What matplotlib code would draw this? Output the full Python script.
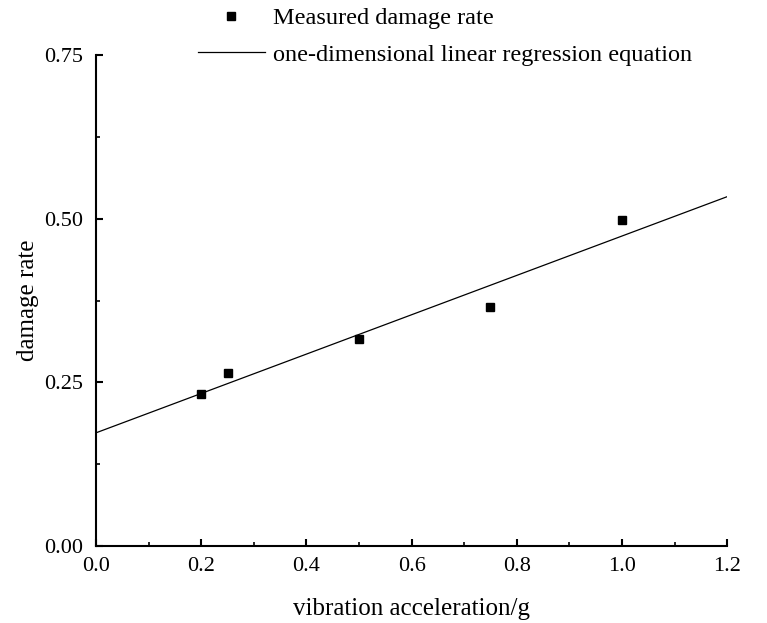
import numpy as np
import matplotlib.pyplot as plt
from matplotlib.ticker import MultipleLocator

# measured damage rate vs vibration acceleration
accel_g = [0.2, 0.25, 0.5, 0.75, 1.0]
damage_rate = [0.232, 0.265, 0.316, 0.365, 0.498]

x_ticks = [0.0, 0.2, 0.4, 0.6, 0.8, 1.0, 1.2]
y_ticks = [0.00, 0.25, 0.50, 0.75]

plt.rcParams['font.family'] = ['Liberation Serif', 'DejaVu Serif']

fig = plt.figure(figsize=(7.67, 6.23), dpi=100)
ax = fig.add_axes([0.1252, 0.1236, 0.8228, 0.7881])

# one-dimensional linear fit through the measured points
slope, intercept = np.polyfit(accel_g, damage_rate, 1)
x_fit = np.array([x_ticks[0], x_ticks[-1]])

ax.plot(accel_g, damage_rate, 's', color='black', ms=6, ls='none',
        label='Measured damage rate')
ax.plot(x_fit, intercept + slope * x_fit, color='black', lw=0.9,
        label='one-dimensional linear regression equation')

ax.set_xlim(x_ticks[0], x_ticks[-1])
ax.set_ylim(y_ticks[0], y_ticks[-1])
ax.set_xticks(x_ticks)
ax.set_yticks(y_ticks)
ax.set_xticklabels([f"{v:.1f}" for v in x_ticks])
ax.set_yticklabels([f"{v:.2f}" for v in y_ticks])
ax.xaxis.set_minor_locator(MultipleLocator(0.1))
ax.yaxis.set_minor_locator(MultipleLocator(0.125))

for side in ['top', 'right']:
    ax.spines[side].set_visible(False)
for side in ['left', 'bottom']:
    ax.spines[side].set_linewidth(1.5)

ax.tick_params(which='major', direction='in', length=5, width=1.5, labelsize=16)
ax.tick_params(which='minor', direction='in', length=3, width=1.2)
ax.tick_params(axis='x', pad=8)
ax.tick_params(axis='y', pad=9)

ax.set_xlabel('vibration acceleration/g', fontsize=18, labelpad=16)
ax.set_ylabel('damage rate', fontsize=18, labelpad=4)

ax.legend(loc='upper left', bbox_to_anchor=(0.146, 1.117), frameon=False,
          fontsize=17.5, handlelength=2.75, handletextpad=0.33,
          labelspacing=0.6, borderaxespad=0)

fig.savefig('out.png', dpi=100)
